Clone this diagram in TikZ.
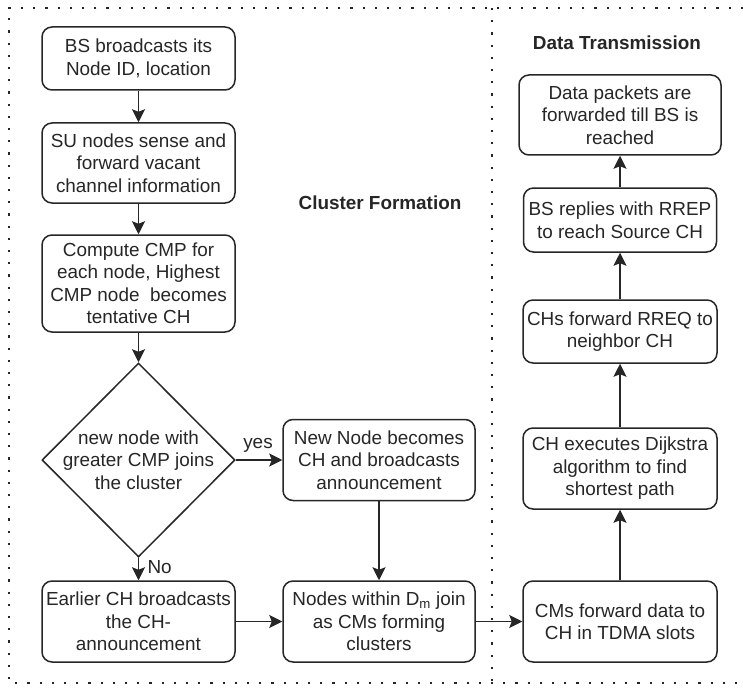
\documentclass[tikz,border=0pt]{standalone}
\usepackage{fontspec}
\setmainfont{Liberation Sans}
\usetikzlibrary{shapes.geometric,arrows.meta}
\definecolor{ink}{HTML}{262626}
\begin{document}
\begin{tikzpicture}[x=1pt,y=-1pt,
  txt/.style={text=ink, font=\fontsize{18.9}{22.5}\selectfont, align=center},
  box/.style={txt, draw=ink, line width=1.5pt, rounded corners=10pt, inner sep=0pt},
  title/.style={text=ink, font=\fontsize{18.9}{22.5}\selectfont\bfseries},
  flow/.style={draw=ink, line width=1.5pt, -{Stealth[length=13pt,width=13pt,inset=2.5pt]}},
  frame/.style={draw=ink, line width=2.2pt, dash pattern=on 2.2pt off 10pt}]
\useasboundingbox (0,0) rectangle (743,687);

% outer frame and section divider
\draw[frame] (743,8) -- (9,8) -- (9,683) -- (743,683);
\draw[frame] (492,8) -- (492,683);

% section titles
\node[title] (tcf) at (380,203) {Cluster Formation};
\node[title] (tdt) at (617,43) {Data Transmission};

% cluster formation
\node[box, minimum width=193pt, minimum height=63pt] (bs) at (138.5,58.5)
  {BS broadcasts its\\Node ID, location};
\node[box, minimum width=193pt, minimum height=80pt] (su) at (138.5,163)
  {SU nodes sense and\\forward vacant\\channel information};
\node[box, minimum width=193pt, minimum height=97pt] (cmp) at (138.5,283.5)
  {Compute CMP for\\each node, Highest\\CMP node\ \ becomes\\tentative CH};
\node[draw=ink, line width=1.5pt, diamond, minimum width=193pt, minimum height=194pt, inner sep=0pt,
  label={[txt]center:{new node with\\greater CMP joins\\the cluster}}] (dec) at (138.5,460) {};
\node[box, minimum width=193pt, minimum height=81pt] (early) at (138.5,621.5)
  {Earlier CH broadcasts\\the CH-\\announcement};
\node[box, minimum width=192pt, minimum height=81pt] (newch) at (379,460)
  {New Node becomes\\CH and broadcasts\\announcement};
\node[box, minimum width=192pt, minimum height=81pt] (join) at (379,621.5)
  {Nodes within D\textsubscript{m} join\\as CMs forming\\clusters};

% data transmission
\node[box, minimum width=194pt, minimum height=81pt] (cms) at (620,621.5)
  {CMs forward data to\\CH in TDMA slots};
\node[box, minimum width=194pt, minimum height=81pt] (dij) at (620,468.5)
  {CH executes Dijkstra\\algorithm to find\\shortest path};
\node[box, minimum width=194pt, minimum height=63pt] (rreq) at (620,331.5)
  {CHs forward RREQ to\\neighbor CH};
\node[box, minimum width=193pt, minimum height=64pt] (rrep) at (620,220)
  {BS replies with RREP\\to reach Source CH};
\node[box, minimum width=202pt, minimum height=80pt] (pkt) at (620,115)
  {Data packets are\\forwarded till BS is\\reached};

% connectors
\draw[flow] (bs) -- (su);
\draw[flow] (su) -- (cmp);
\draw[flow] (cmp) -- (dec.north);
\draw[flow] (dec.east) -- (newch.west);
\draw[flow] (dec.south) -- (early);
\draw[flow] (newch) -- (join);
\draw[flow] (early) -- (join);
\draw[flow] (join) -- (cms);
\draw[flow] (cms) -- (dij);
\draw[flow] (dij) -- (rreq);
\draw[flow] (rreq) -- (rrep);
\draw[flow] (rrep) -- (pkt);

% branch labels
\node[txt] (yes) at (258,445) {yes};
\node[txt, anchor=west] (no) at (144,567) {No};
\end{tikzpicture}
\end{document}
